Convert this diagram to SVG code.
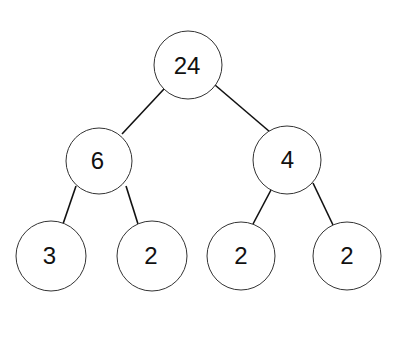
<svg xmlns="http://www.w3.org/2000/svg" width="400" height="347" viewBox="0 0 400 347">
<style>
.n circle{fill:#fff;stroke:#333;stroke-width:1}
.n text{font-family:"Liberation Sans",Arial,sans-serif;font-size:24px;fill:#111;text-anchor:middle}
.e line{stroke:#111;stroke-width:1.6}
</style>
<rect width="400" height="347" fill="#fff"/>
<g class="e" id="edges">
<line x1="164" y1="89" x2="122" y2="134"/>
<line x1="215" y1="85" x2="270" y2="132"/>
<line x1="76" y1="186" x2="63" y2="224"/>
<line x1="126" y1="186" x2="138" y2="224"/>
<line x1="271" y1="190" x2="253" y2="224"/>
<line x1="313" y1="183" x2="333" y2="225"/>
</g>
<g class="n" id="n24"><circle cx="188" cy="65" r="34"/><text x="187" y="74">24</text></g>
<g class="n" id="n6"><circle cx="99" cy="161" r="33"/><text x="97.5" y="169">6</text></g>
<g class="n" id="n4"><circle cx="287" cy="160" r="34"/><text x="287.5" y="168">4</text></g>
<g class="n" id="n3"><circle cx="51" cy="256" r="35"/><text x="49.5" y="264">3</text></g>
<g class="n" id="n2a"><circle cx="152" cy="256" r="35"/><text x="151" y="264">2</text></g>
<g class="n" id="n2b"><circle cx="241" cy="256" r="34"/><text x="241" y="264">2</text></g>
<g class="n" id="n2c"><circle cx="347" cy="256" r="34"/><text x="347" y="264">2</text></g>
</svg>
